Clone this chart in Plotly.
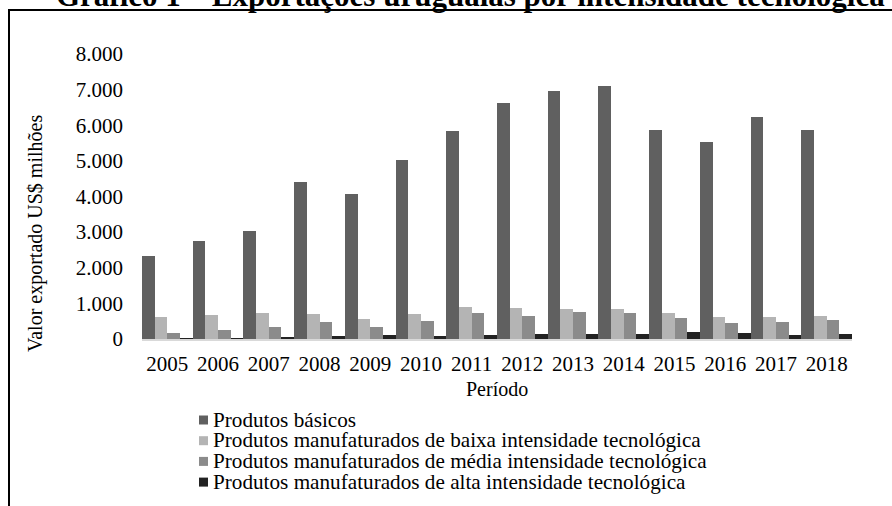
import plotly.graph_objects as go

years = ["2005", "2006", "2007", "2008", "2009", "2010", "2011",
         "2012", "2013", "2014", "2015", "2016", "2017", "2018"]

basicos = [2320, 2760, 3040, 4410, 4080, 5030, 5840, 6630, 6970, 7100, 5860, 5520, 6240, 5880]
baixa = [620, 670, 720, 690, 560, 690, 910, 880, 850, 850, 720, 620, 620, 640]
media = [180, 260, 340, 470, 340, 510, 720, 640, 770, 720, 590, 440, 490, 540]
alta = [15, 20, 50, 80, 100, 80, 100, 130, 130, 130, 210, 160, 100, 130]

series_names = [
    "Produtos básicos",
    "Produtos manufaturados de baixa intensidade tecnológica",
    "Produtos manufaturados de média intensidade tecnológica",
    "Produtos manufaturados de alta intensidade tecnológica",
]
series_values = [basicos, baixa, media, alta]
colors = ["#606060", "#b4b4b4", "#8b8b8b", "#222222"]

title_text = "Gráfico 1 – Exportações uruguaias por intensidade tecnológica"
ytitle = "Valor exportado US$ milhões"
xtitle = "Período"

W, H = 892, 506
L, R, T, B = 142, 852, 54, 339
FONT = "Liberation Serif"


def px_x(px):
    return (px - L) / (R - L)


def px_y(py):
    return (B - py) / (B - T)


fig = go.Figure()
for name, vals, col in zip(series_names, series_values, colors):
    fig.add_trace(go.Bar(x=years, y=vals, name=name, marker_color=col,
                         marker_line_width=0, showlegend=False))

fig.update_layout(
    width=W, height=H,
    margin=dict(l=L, r=W - R, t=T, b=H - B, pad=0),
    paper_bgcolor="white", plot_bgcolor="white",
    barmode="group", bargap=0, bargroupgap=0,
    separators=",.",
    font=dict(family=FONT, size=20, color="black"),
    xaxis=dict(showgrid=False, zeroline=False, showline=True,
               linecolor="#d9d9d9", linewidth=2, ticks="",
               ticklabelstandoff=5, tickfont=dict(size=21, family=FONT)),
    yaxis=dict(range=[0, 8000], dtick=1000, tickformat=",d",
               showgrid=False, zeroline=False, showline=False, ticks="",
               ticklabelstandoff=18, tickfont=dict(size=21, family=FONT)),
)

# outer frame (cut off at right and bottom)
fig.add_shape(type="rect", xref="paper", yref="paper",
              x0=px_x(9), x1=px_x(W + 20), y0=px_y(H + 20), y1=px_y(10),
              line=dict(color="black", width=2), fillcolor="rgba(0,0,0,0)",
              layer="above")

# title (partially cut at top)
fig.add_annotation(text="<b>" + title_text + "</b>", xref="paper", yref="paper",
                   x=px_x(470), y=px_y(-5), xanchor="center", yanchor="middle",
                   showarrow=False, font=dict(size=31, family=FONT))

# y-axis title
fig.add_annotation(text=ytitle, xref="paper", yref="paper",
                   x=px_x(35), y=px_y(234), xanchor="center", yanchor="middle",
                   textangle=-90, showarrow=False, font=dict(size=20, family=FONT))

# x-axis title
fig.add_annotation(text=xtitle, xref="paper", yref="paper",
                   x=px_x(497), y=px_y(389), xanchor="center", yanchor="middle",
                   showarrow=False, font=dict(size=20, family=FONT))

# legend
row0, step = 419.5, 20.7
for i, (name, col) in enumerate(zip(series_names, colors)):
    cy = row0 + i * step
    fig.add_shape(type="rect", xref="paper", yref="paper",
                  x0=px_x(199), x1=px_x(208), y0=px_y(cy + 5), y1=px_y(cy - 4),
                  line=dict(width=0), fillcolor=col)
    fig.add_annotation(text=name, xref="paper", yref="paper",
                       x=px_x(212), y=px_y(cy), xanchor="left", yanchor="middle",
                       borderpad=0,
                       showarrow=False, font=dict(size=21.2, family=FONT))

fig.write_html("out.html", config={"displayModeBar": False},
               post_script="document.body.style.margin='0';document.body.style.padding='0';")
